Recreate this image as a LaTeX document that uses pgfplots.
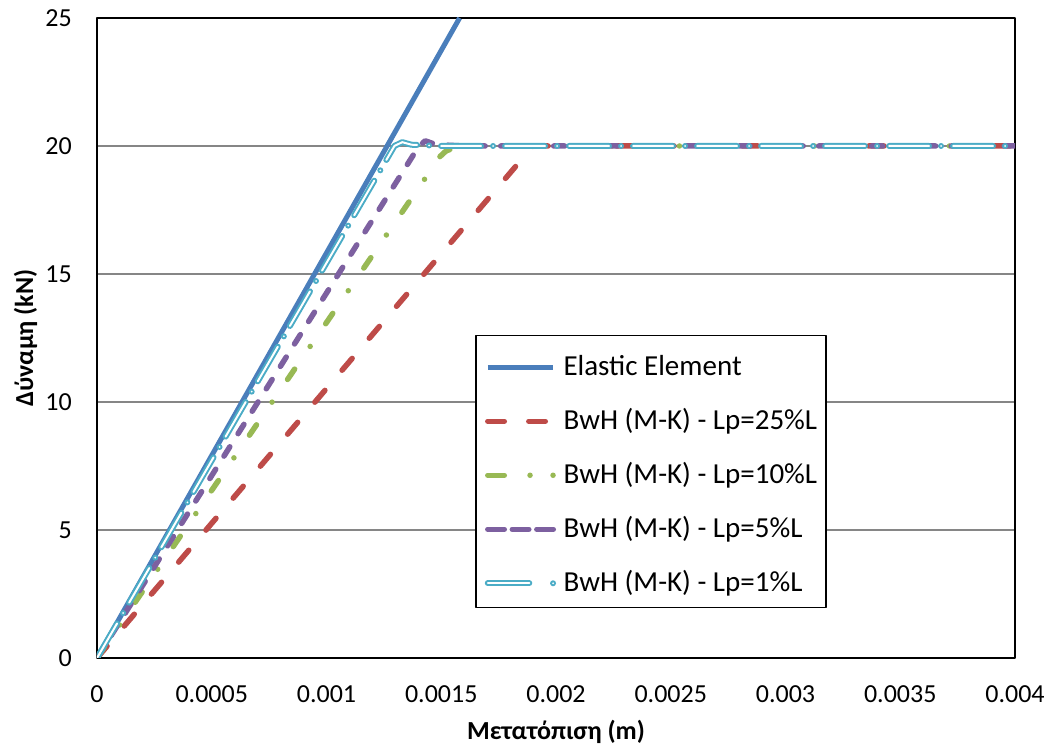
\documentclass[border=0pt]{standalone}
\usepackage{pgfplots}
\pgfplotsset{compat=1.18}
\usepackage{fontspec}
\setmainfont{Carlito}
\definecolor{cblue}{HTML}{4A7EBB}
\definecolor{cred}{HTML}{BE4B48}
\definecolor{cgreen}{HTML}{98B954}
\definecolor{cpurple}{HTML}{7D60A0}
\definecolor{ccyan}{HTML}{4BACC6}
\definecolor{cgrid}{HTML}{868686}
\begin{document}
\begin{tikzpicture}
\begin{axis}[
  at={(0pt,0pt)}, anchor=south west,
  scale only axis, width=918pt, height=640pt,
  xmin=0, xmax=0.004, ymin=0, ymax=25,
  xtick={0,0.0005,0.001,0.0015,0.002,0.0025,0.003,0.0035,0.004},
  xticklabels={0,0.0005,0.001,0.0015,0.002,0.0025,0.003,0.0035,0.004},
  ytick={0,5,10,15,20,25},
  scaled x ticks=false,
  major tick length=0pt,
  /pgf/number format/assume math mode=true,
  tick label style={font=\fontsize{26}{31}\selectfont, inner sep=0pt},
  xticklabel style={anchor=north, yshift=-27pt},
  yticklabel style={anchor=east, xshift=-25pt},
  ymajorgrids, grid style={cgrid, line width=1.5pt},
  axis line style={black, line width=2pt},
  xlabel={Μετατόπιση (m)}, ylabel={Δύναμη (kN)},
  label style={font=\fontsize{26}{31}\selectfont\bfseries},
  xlabel style={at={(axis description cs:0.5,-0.128)}, anchor=base},
  ylabel style={at={(axis description cs:-0.0697,0.5)}, anchor=base},
  legend style={at={(rel axis cs:0.4118,0.0781)}, anchor=south west,
    draw=black, line width=1.5pt, fill=white,
    font=\fontsize{29}{34}\selectfont,
    inner xsep=9pt, inner ysep=14pt, row sep=26pt, column sep=7pt,
    nodes={inner sep=0pt, text height=26pt, text depth=2pt}},
  legend cell align=left,
  legend image code/.code={\draw[#1] (2.75pt,-4pt) -- (68.25pt,-4pt);},
  line join=round,
]
\addplot[cblue, line width=5pt] coordinates {(0,0) (0.00158,25)};
\addlegendentry{Elastic Element}
\addplot[cred, line width=5.5pt, line cap=round, dash pattern=on 15.5pt off 26.5pt,
  legend image code/.code={\draw[dash pattern=on 16.5pt off 24.5pt] (2.75pt,-4pt) -- (68.25pt,-4pt);}]
  coordinates {(0,0) (0.0019,20) (0.004,20)};
\addlegendentry{BwH (M-K) - Lp=25\%L}
\addplot[cgreen, line width=5.5pt, line cap=round, dash pattern=on 12.5pt off 27.5pt on 0pt off 27.5pt,
  legend image code/.code={\draw[dash pattern=on 16.5pt off 25.75pt on 0pt off 23pt on 0pt off 10pt] (2.75pt,-4pt) -- (68.5pt,-4pt);}]
  coordinates {(0,0) (0.00145,19.0) (0.00149,19.55) (0.00152,19.8) (0.00156,19.95) (0.0016,20) (0.004,20)};
\addlegendentry{BwH (M-K) - Lp=10\%L}
\addplot[cpurple, line width=5.5pt, line cap=round, dash pattern=on 11pt off 15.5pt,
  legend image code/.code={\draw[dash pattern=on 16.5pt off 8pt] (2.75pt,-4pt) -- (68.25pt,-4pt);}]
  coordinates {(0,0) (0.001403,20) (0.00143,20.2) (0.00148,20.05) (0.0016,20) (0.004,20)};
\addlegendentry{BwH (M-K) - Lp=5\%L}
\addplot[ccyan, line width=2pt, double=white, double distance=2pt, line cap=round, dash pattern=on 40pt off 12pt on 0pt off 12pt,
  legend image code/.code={\draw[dash pattern=on 41.5pt off 23.75pt on 0pt off 10pt] (2.75pt,-4pt) -- (68.5pt,-4pt);}]
  coordinates {(0,0) (0.001296,20) (0.00133,20.15) (0.00137,20.05) (0.0015,20) (0.004,20)};
\addlegendentry{BwH (M-K) - Lp=1\%L}
\end{axis}
\pgfresetboundingbox
\path[use as bounding box] (-97pt,-88pt) rectangle (949pt,658pt);
\end{tikzpicture}
\end{document}
